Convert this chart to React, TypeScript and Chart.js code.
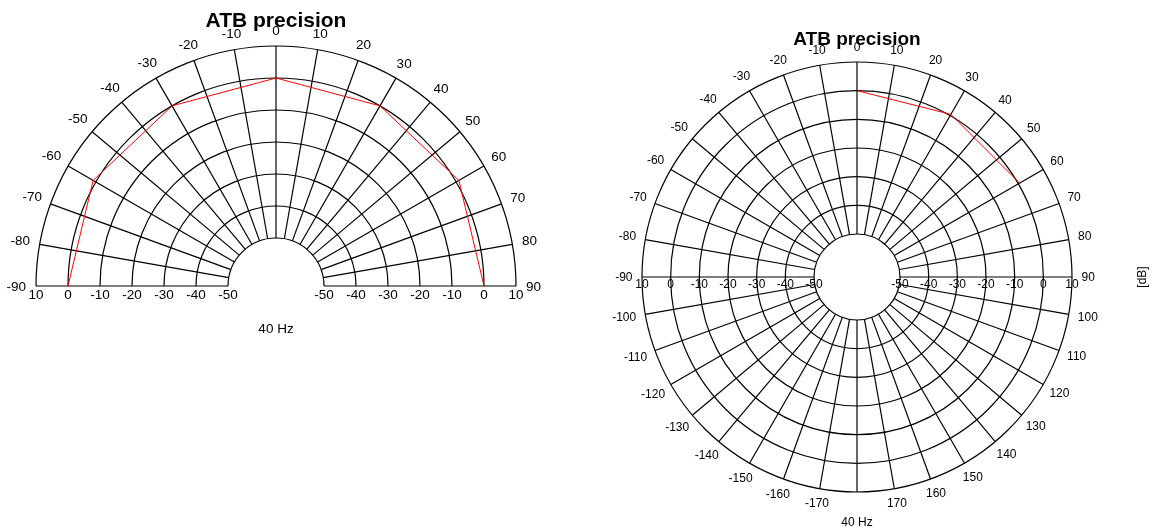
import React, { useEffect, useRef } from "react";
import { Chart, registerables } from "chart.js";

Chart.register(...registerables);

// ---- data ----
const radialTicks = [10, 0, -10, -20, -30, -40, -50];
const radialCenter = -65; // value at the centre of the polar plot (inside the hole)

const halfAngleTicks = [-90, -80, -70, -60, -50, -40, -30, -20, -10, 0, 10, 20, 30, 40, 50, 60, 70, 80, 90];
const fullAngleTicks = [
  -170, -160, -150, -140, -130, -120, -110, -100, -90, -80, -70, -60, -50, -40, -30, -20, -10,
  0, 10, 20, 30, 40, 50, 60, 70, 80, 90, 100, 110, 120, 130, 140, 150, 160, 170,
];

const halfAngles = [-90, -60, -30, 0, 30, 60, 90];
const halfValues = [0, 1, 0, 0, 0, 1, 0];
const fullAngles = [0, 30, 60];
const fullValues = [0, 0.5, 0.5];

const titleText = "ATB precision";
const freqLabel = "40 Hz";
const unitLabel = "[dB]";

const FONT = "'Liberation Sans', Arial, sans-serif";

function toXY(angles: number[], values: number[]) {
  return angles.map((a, i) => {
    const r = values[i] - radialCenter;
    const t = (a * Math.PI) / 180;
    return { x: r * Math.sin(t), y: r * Math.cos(t) };
  });
}

const polarGrid = {
  id: "polarGrid",
  beforeDatasetsDraw(chart: any, _args: any, opts: any) {
    const ctx: CanvasRenderingContext2D = chart.ctx;
    const xs = chart.scales.x;
    const ys = chart.scales.y;
    const cx = xs.getPixelForValue(0);
    const cy = ys.getPixelForValue(0);
    const rad = (v: number) => xs.getPixelForValue(v - radialCenter) - cx;
    const outer = rad(radialTicks[0]);
    const inner = rad(radialTicks[radialTicks.length - 1]);
    ctx.save();
    ctx.strokeStyle = "#000";
    ctx.lineWidth = 1.2;
    for (const v of radialTicks) {
      ctx.beginPath();
      if (opts.half) ctx.arc(cx, cy, rad(v), Math.PI, 2 * Math.PI);
      else ctx.arc(cx, cy, rad(v), 0, 2 * Math.PI);
      ctx.stroke();
    }
    const spokes: number[] = opts.half ? halfAngleTicks : [...fullAngleTicks, 180];
    for (const a of spokes) {
      const t = (a * Math.PI) / 180;
      const sx = Math.sin(t);
      const sy = -Math.cos(t);
      ctx.beginPath();
      ctx.moveTo(cx + sx * inner, cy + sy * inner);
      ctx.lineTo(cx + sx * outer, cy + sy * outer);
      ctx.stroke();
    }
    // labels
    ctx.fillStyle = "#000";
    ctx.font = `${opts.fontSize}px ${FONT}`;
    ctx.textAlign = "center";
    ctx.textBaseline = "middle";
    const angleTicks: number[] = opts.half ? halfAngleTicks : fullAngleTicks;
    for (const a of angleTicks) {
      const t = (a * Math.PI) / 180;
      const s = Math.sin(t);
      const c = Math.cos(t);
      const txt = String(a);
      const w = ctx.measureText(txt).width;
      const dist = outer + opts.labelGap + Math.abs(s) * Math.max(0, w / 2 - opts.labelAdj);
      const dy = Math.abs(s) > 0.99 ? 1 : 0;
      ctx.fillText(txt, cx + s * dist, cy - c * dist + dy);
    }
    for (const v of radialTicks) {
      const r = rad(v);
      ctx.fillText(String(v), cx - r, cy + opts.radialDy);
      ctx.fillText(String(v), cx + r, cy + opts.radialDy);
    }
    ctx.fillText(freqLabel, cx, cy + opts.freqDy);
    if (opts.unitDx) {
      ctx.save();
      ctx.translate(cx + opts.unitDx, cy);
      ctx.rotate(-Math.PI / 2);
      ctx.fillText(unitLabel, 0, 0);
      ctx.restore();
    }
    ctx.font = `bold ${opts.titleSize}px ${FONT}`;
    ctx.fillText(titleText, cx, opts.titleY);
    ctx.restore();
  },
};

function PolarChart(props: {
  left: number;
  width: number;
  height: number;
  cx: number;
  cy: number;
  radius: number;
  half: boolean;
  angles: number[];
  values: number[];
  grid: any;
}) {
  const ref = useRef<HTMLCanvasElement | null>(null);
  useEffect(() => {
    if (!ref.current) return;
    const outerUnits = radialTicks[0] - radialCenter;
    const k = props.radius / outerUnits; // px per unit
    const chart = new Chart(ref.current, {
      type: "scatter",
      data: {
        datasets: [
          {
            data: toXY(props.angles, props.values),
            showLine: true,
            borderColor: "#ff0000",
            borderWidth: 1,
            pointRadius: 0,
            fill: false,
            tension: 0,
          },
        ],
      },
      options: {
        responsive: false,
        animation: false,
        events: [],
        layout: { padding: 0 },
        scales: {
          x: { type: "linear", display: false, min: -props.cx / k, max: (props.width - props.cx) / k },
          y: { type: "linear", display: false, min: -(props.height - props.cy) / k, max: props.cy / k },
        },
        plugins: {
          legend: { display: false },
          tooltip: { enabled: false },
          title: { display: false },
          polarGrid: { half: props.half, ...props.grid },
        } as any,
      },
      plugins: [polarGrid],
    });
    return () => chart.destroy();
  }, []);
  return (
    <canvas
      ref={ref}
      width={props.width}
      height={props.height}
      style={{ position: "absolute", left: props.left, top: 0, width: props.width, height: props.height }}
    />
  );
}

export default function App() {
  return (
    <div style={{ position: "absolute", left: 0, top: 0, width: 1153, height: 529, background: "#fff", overflow: "hidden" }}>
      <PolarChart
        left={0}
        width={580}
        height={350}
        cx={276}
        cy={286}
        radius={240}
        half={true}
        angles={halfAngles}
        values={halfValues}
        grid={{ fontSize: 13.5, labelGap: 15, labelAdj: 5, radialDy: 9.5, freqDy: 43, titleSize: 21, titleY: 21 }}
      />
      <PolarChart
        left={580}
        width={573}
        height={529}
        cx={277}
        cy={277}
        radius={215}
        half={false}
        angles={fullAngles}
        values={fullValues}
        grid={{ fontSize: 12, labelGap: 14, labelAdj: 4.5, radialDy: 8, freqDy: 246, unitDx: 286, titleSize: 19, titleY: 40 }}
      />
    </div>
  );
}
